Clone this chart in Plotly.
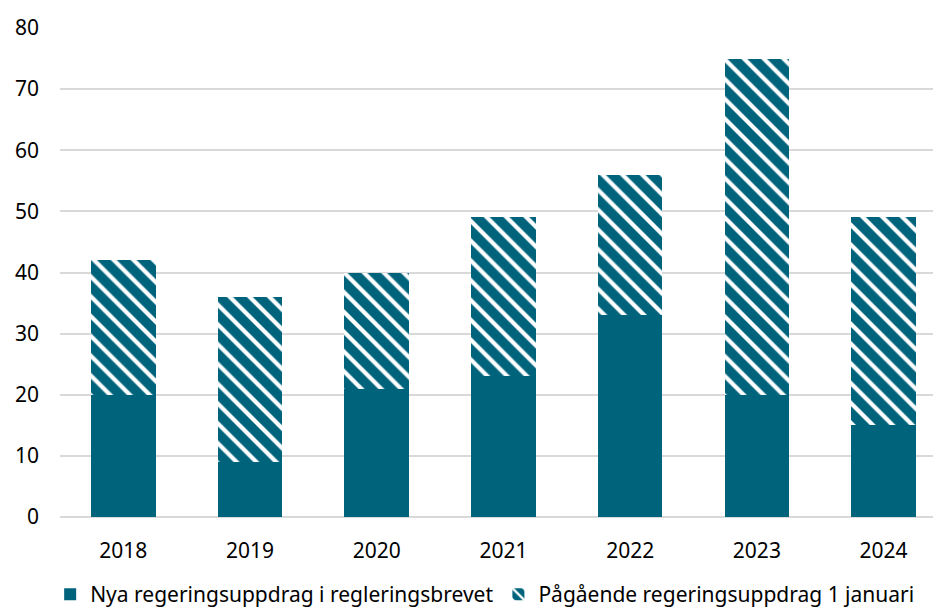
import plotly.graph_objects as go

years = ["2018", "2019", "2020", "2021", "2022", "2023", "2024"]
nya = [20, 9, 21, 23, 33, 20, 15]
pagaende = [22, 27, 19, 26, 23, 55, 34]
name_nya = "Nya regeringsuppdrag i regleringsbrevet"
name_pag = "Pågående regeringsuppdrag 1 januari"

TEAL = "#00637C"
FONT = "Noto Sans"

fig = go.Figure()
fig.add_trace(go.Bar(x=years, y=nya, name=name_nya, marker=dict(color=TEAL, line=dict(width=0))))
fig.add_trace(go.Bar(x=years, y=pagaende, name=name_pag,
                     marker=dict(color=TEAL, line=dict(width=0),
                                 pattern=dict(shape="\\", fgcolor="white", bgcolor=TEAL,
                                              size=14, solidity=0.3, fillmode="replace"))))

fig.update_layout(
    barmode="stack",
    bargap=0.49,
    width=933, height=615,
    margin=dict(l=60, r=0, t=28, b=98, autoexpand=False),
    plot_bgcolor="white", paper_bgcolor="white",
    font=dict(family=FONT, size=21, color="#000000"),
    showlegend=True,
    legend=dict(orientation="h", x=0.52, xref="container", xanchor="center",
                y=-0.01, yref="container", yanchor="bottom",
                font=dict(size=21), itemwidth=30, traceorder="normal"),
    xaxis=dict(type="category", range=[-0.5, 6.39], showgrid=False, showline=False,
               ticks="", tickfont=dict(size=21), ticklabelstandoff=19),
    yaxis=dict(range=[0, 80], dtick=10, showgrid=True, gridcolor="#D9D9D9", gridwidth=1.5,
               zeroline=True, zerolinecolor="#D9D9D9", zerolinewidth=1.5,
               showline=False, ticks="", ticklabelstandoff=20, tickfont=dict(size=21)),
)

fig.write_html("out.html")
